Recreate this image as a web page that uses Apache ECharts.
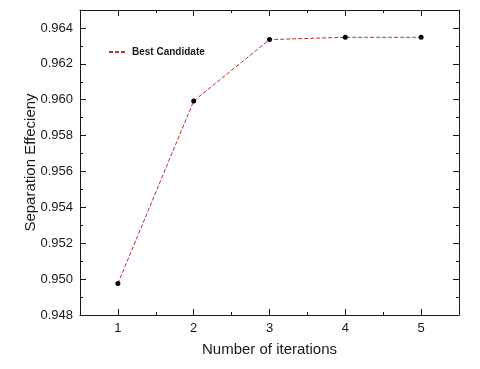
<!DOCTYPE html>
<html><head><meta charset="utf-8">
<script src="https://cdn.jsdelivr.net/npm/echarts@6/dist/echarts.min.js"></script>
<style>html,body{margin:0;padding:0;background:#fff}#c{width:480px;height:369px}</style>
</head><body><div id="c"></div>
<script>
const iterations = [1, 2, 3, 4, 5];
const efficiency = [0.94975, 0.95993, 0.96335, 0.96348, 0.96348];
const xMajorTicks = [1, 2, 3, 4, 5];
const xMinorTicks = [1.5, 2.5, 3.5, 4.5];
const seriesName = 'Best Candidate';
const xTitle = 'Number of iterations';
const yTitle = 'Separation Effecieny';

const FONT = '"Liberation Sans", Arial, sans-serif';
const INK = '#1a1a1a';
const RED = '#b83232';

const chart = echarts.init(document.getElementById('c'), null, {renderer: 'canvas'});
const baseX = {type: 'value', min: 0.5, max: 5.5, splitLine: {show: false}};
chart.setOption({
  animation: false,
  backgroundColor: '#fff',
  grid: {left: 80, top: 10, right: 21, bottom: 54, containLabel: false},
  legend: {
    data: [seriesName], left: 103, top: 42, itemWidth: 18, itemHeight: 10, itemGap: 5,
    itemStyle: {opacity: 0},
    textStyle: {fontFamily: FONT, fontSize: 10, fontWeight: 'bold', color: INK}
  },
  xAxis: [
    Object.assign({}, baseX, {
      position: 'bottom', name: xTitle, nameLocation: 'middle', nameGap: 27, nameMoveOverlap: false,
      nameTextStyle: {fontFamily: FONT, fontSize: 15, color: INK},
      axisLine: {show: true, onZero: false, lineStyle: {color: INK, width: 1}},
      axisTick: {show: true, inside: true, length: 6, customValues: xMajorTicks, lineStyle: {color: INK}},
      axisLabel: {show: true, margin: 7, customValues: xMajorTicks, fontFamily: FONT, fontSize: 13, color: INK}
    }),
    Object.assign({}, baseX, {
      position: 'bottom',
      axisLine: {show: false, onZero: false},
      axisTick: {show: true, inside: true, length: 3, customValues: xMinorTicks, lineStyle: {color: INK}},
      axisLabel: {show: false}
    }),
    Object.assign({}, baseX, {
      position: 'top',
      axisLine: {show: true, onZero: false, lineStyle: {color: INK, width: 1}},
      axisTick: {show: true, inside: true, length: 6, customValues: xMajorTicks, lineStyle: {color: INK}},
      axisLabel: {show: false}
    }),
    Object.assign({}, baseX, {
      position: 'top',
      axisLine: {show: false, onZero: false},
      axisTick: {show: true, inside: true, length: 3, customValues: xMinorTicks, lineStyle: {color: INK}},
      axisLabel: {show: false}
    })
  ],
  yAxis: [
    {
      type: 'value', min: 0.948, max: 0.965, interval: 0.002, position: 'left',
      name: yTitle, nameLocation: 'middle', nameGap: 42, nameMoveOverlap: false,
      nameTextStyle: {fontFamily: FONT, fontSize: 15, color: INK},
      axisLine: {show: true, onZero: false, lineStyle: {color: INK, width: 1}},
      axisTick: {show: true, inside: true, length: 6, lineStyle: {color: INK}},
      minorTick: {show: true, splitNumber: 2, length: 3, lineStyle: {color: INK}},
      splitLine: {show: false},
      axisLabel: {margin: 7, fontFamily: FONT, fontSize: 13, color: INK, showMaxLabel: false,
        formatter: v => (v > 0.9645 ? '' : v.toFixed(3))}
    },
    {
      type: 'value', min: 0.948, max: 0.965, interval: 0.002, position: 'right',
      axisLine: {show: true, onZero: false, lineStyle: {color: INK, width: 1}},
      axisTick: {show: true, inside: true, length: 6, lineStyle: {color: INK}},
      minorTick: {show: true, splitNumber: 2, length: 3, lineStyle: {color: INK}},
      splitLine: {show: false},
      axisLabel: {show: false}
    }
  ],
  series: [
    {
      name: seriesName, type: 'line', data: [], symbol: 'none',
      lineStyle: {color: RED, width: 1, type: [4, 2]}, itemStyle: {color: RED}
    },
    {
      name: 'points', type: 'line', xAxisIndex: 0, yAxisIndex: 0,
      data: iterations.map((x, i) => [x, efficiency[i]]),
      symbol: 'circle', symbolSize: 5,
      itemStyle: {color: '#000'},
      lineStyle: {color: RED, width: 1, type: [4, 2]}
    }
  ]
});
</script></body></html>
